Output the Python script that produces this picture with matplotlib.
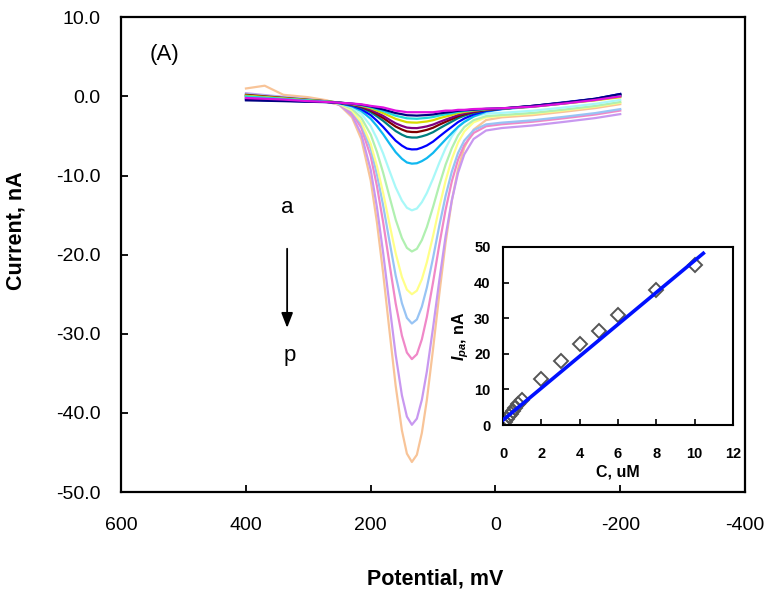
import matplotlib.pyplot as plt

plt.rcParams['font.family'] = ['Liberation Sans', 'DejaVu Sans']
plt.rcParams['axes.unicode_minus'] = False
plt.rcParams['mathtext.fontset'] = 'custom'
plt.rcParams['mathtext.it'] = 'Liberation Sans:italic:bold'
plt.rcParams['mathtext.rm'] = 'Liberation Sans:bold'

# potential grid (mV), shared by all curves
potential = [400, 370, 340, 300, 270, 250, 230, 215, 200, 190, 180, 170, 160, 150, 142, 134,
             126, 118, 110, 100, 90, 80, 70, 60, 50, 35, 15, -10, -60, -110, -160, -200]

# currents (nA), curves a .. p
curve_a = [-0.2, -0.3, -0.4, -0.6, -0.7, -0.8, -0.9, -1.0, -1.2, -1.3, -1.4, -1.6, -1.8, -1.9, -2.0, -2.0,
           -2.0, -2.0, -2.0, -2.0, -1.9, -1.8, -1.8, -1.7, -1.7, -1.6, -1.55, -1.5, -1.3, -0.9, -0.45, 0.0]
curve_b = [-0.5, -0.55, -0.6, -0.68, -0.73, -0.8, -0.92, -1.06, -1.27, -1.47, -1.65, -1.88, -2.11, -2.25, -2.38, -2.4,
           -2.43, -2.39, -2.36, -2.29, -2.15, -2.05, -1.95, -1.82, -1.76, -1.68, -1.57, -1.52, -1.2, -0.8, -0.3, 0.3]
curve_c = [0.0, -0.15, -0.3, -0.5, -0.65, -0.78, -0.94, -1.11, -1.37, -1.62, -1.85, -2.15, -2.44, -2.62, -2.77, -2.8,
           -2.83, -2.77, -2.72, -2.61, -2.42, -2.27, -2.13, -1.95, -1.85, -1.73, -1.6, -1.53, -1.25, -0.85, -0.4, 0.1]
curve_d = [0.1, -0.07, -0.24, -0.47, -0.64, -0.78, -0.97, -1.18, -1.5, -1.81, -2.11, -2.48, -2.84, -3.08, -3.26, -3.3,
           -3.32, -3.24, -3.17, -3.01, -2.76, -2.55, -2.35, -2.12, -1.97, -1.8, -1.63, -1.53, -1.3, -0.9, -0.5, -0.1]
curve_e = [-0.3, -0.39, -0.48, -0.6, -0.7, -0.8, -1.01, -1.27, -1.68, -2.07, -2.47, -2.95, -3.41, -3.73, -3.94, -4.0,
           -4.01, -3.91, -3.79, -3.56, -3.24, -2.94, -2.66, -2.35, -2.15, -1.9, -1.67, -1.55, -1.2, -0.8, -0.35, 0.2]
curve_f = [0.2, 0.01, -0.18, -0.43, -0.62, -0.79, -1.04, -1.33, -1.81, -2.26, -2.73, -3.28, -3.81, -4.19, -4.43, -4.5,
           -4.51, -4.38, -4.23, -3.96, -3.57, -3.22, -2.88, -2.52, -2.27, -1.97, -1.7, -1.55, -1.25, -0.85, -0.4, 0.1]
curve_g = [0.1, -0.07, -0.24, -0.47, -0.64, -0.81, -1.08, -1.42, -1.99, -2.52, -3.09, -3.75, -4.38, -4.84, -5.12, -5.2,
           -5.2, -5.05, -4.86, -4.52, -4.05, -3.61, -3.19, -2.75, -2.44, -2.07, -1.74, -1.56, -1.25, -0.8, -0.35, 0.2]
curve_h = [-0.4, -0.47, -0.54, -0.64, -0.71, -0.85, -1.16, -1.62, -2.37, -3.08, -3.86, -4.75, -5.6, -6.22, -6.59, -6.7,
           -6.68, -6.47, -6.2, -5.71, -5.07, -4.45, -3.85, -3.25, -2.8, -2.28, -1.83, -1.59, -1.2, -0.75, -0.3, 0.3]
curve_i = [-0.1, -0.23, -0.36, -0.54, -0.67, -0.87, -1.26, -1.85, -2.83, -3.76, -4.79, -5.95, -7.05, -7.88, -8.35, -8.5,
           -8.45, -8.18, -7.8, -7.14, -6.29, -5.45, -4.64, -3.85, -3.24, -2.54, -1.93, -1.62, -1.3, -0.9, -0.45, 0.0]
curve_j = [0.2, 0.01, -0.18, -0.43, -0.65, -0.85, -1.37, -2.2, -3.75, -5.34, -7.23, -9.39, -11.5, -13.16, -14.07, -14.4,
           -14.17, -13.37, -12.21, -10.38, -8.38, -6.55, -5.06, -3.9, -3.15, -2.53, -2.18, -2.08, -1.81, -1.4, -0.94, -0.44]
curve_k = [0.0, -0.15, -0.3, -0.5, -0.69, -0.91, -1.57, -2.71, -4.83, -7.02, -9.67, -12.65, -15.57, -17.9, -19.14, -19.6,
           -19.26, -18.16, -16.52, -13.96, -11.19, -8.64, -6.55, -4.93, -3.88, -3.0, -2.5, -2.36, -2.09, -1.67, -1.21, -0.71]
curve_l = [-0.1, -0.23, -0.36, -0.54, -0.72, -0.97, -1.79, -3.25, -6.0, -8.82, -12.24, -16.08, -19.82, -22.83, -24.42, -25.0,
           -24.55, -23.11, -20.96, -17.61, -14.0, -10.67, -7.93, -5.83, -4.44, -3.28, -2.64, -2.46, -2.18, -1.76, -1.3, -0.8]
curve_m = [0.3, 0.09, -0.12, -0.4, -0.66, -0.97, -1.9, -3.54, -6.62, -9.86, -13.81, -18.27, -22.63, -26.13, -27.99, -28.7,
           -28.19, -26.57, -24.16, -20.39, -16.33, -12.59, -9.51, -7.15, -5.58, -4.27, -3.54, -3.32, -3.02, -2.58, -2.11, -1.61]
curve_n = [0.1, -0.07, -0.24, -0.47, -0.7, -1.02, -2.08, -3.98, -7.57, -11.33, -15.94, -21.1, -26.16, -30.22, -32.37, -33.2,
           -32.59, -30.7, -27.88, -23.47, -18.73, -14.35, -10.75, -7.99, -6.16, -4.62, -3.77, -3.52, -3.2, -2.76, -2.29, -1.79]
curve_o = [0.4, 0.17, -0.06, -0.36, -0.67, -1.07, -2.4, -4.79, -9.29, -14.02, -19.81, -26.3, -32.65, -37.77, -40.46, -41.5,
           -40.72, -38.34, -34.77, -29.19, -23.23, -17.69, -13.14, -9.66, -7.33, -5.38, -4.31, -4.0, -3.67, -3.22, -2.74, -2.24]
curve_p = [1.0, 1.35, 0.2, -0.1, -0.5, -1.09, -2.65, -5.42, -10.64, -15.94, -22.39, -29.57, -36.57, -42.2, -45.14, -46.2,
           -45.29, -42.52, -38.36, -31.88, -24.95, -18.51, -13.21, -9.18, -6.46, -4.19, -2.99, -2.65, -2.37, -1.94, -1.48, -0.98]

curves = [curve_a, curve_b, curve_c, curve_d, curve_e, curve_f, curve_g, curve_h,
          curve_i, curve_j, curve_k, curve_l, curve_m, curve_n, curve_o, curve_p]
colors = ['#e010e0', '#000080', '#20d8d8', '#d8d800', '#800080', '#800000', '#008080', '#0000ff',
          '#10b8f0', '#a8f8f8', '#b0f0b0', '#ffff88', '#98c4f4', '#f088c8', '#c898f0', '#f8c498']

# inset: calibration
conc = [0, 0.1, 0.2, 0.3, 0.4, 0.5, 0.6, 0.8, 1.0, 2, 3, 4, 5, 6, 8, 10]
ipa = [0.2, 0.9, 1.7, 2.4, 3.2, 4.0, 4.8, 6.0, 7.0, 12.8, 18.0, 22.8, 26.5, 30.8, 38.0, 45.0]
fit_slope, fit_intercept = 4.48, 1.4
fit_x = [0, 10.45]

fig = plt.figure(figsize=(7.72, 5.95), dpi=100)
ax = fig.add_axes([0.157, 0.173, 0.808, 0.798])

# draw largest first so the dark curves sit on top
for ys, c in reversed(list(zip(curves, colors))):
    ax.plot(potential, ys, color=c, lw=1.6, solid_joinstyle='round')

ax.set_xlim(600, -400)
ax.set_ylim(-50, 10)
ax.set_xticks([600, 400, 200, 0, -200, -400])
ax.set_yticks(range(-50, 11, 10))
ax.yaxis.set_major_formatter(plt.FuncFormatter(lambda v, p: f'{v:.1f}'))
ax.tick_params(direction='in', length=5, width=1.3, labelsize=14)
ax.tick_params(axis='y', pad=15)
ax.tick_params(axis='x', pad=18)
for s in ax.spines.values():
    s.set_linewidth(1.6)

ax.set_xlabel('Potential, mV', fontsize=15.5, fontweight='bold')
ax.set_ylabel('Current, nA', fontsize=15.5, fontweight='bold')
ax.xaxis.set_label_coords(0.503, -0.16)
ax.yaxis.set_label_coords(-0.152, 0.55)

ax.text(530, 5.3, '(A)', fontsize=16, ha='center', va='center')
ax.text(334, -14.1, 'a', fontsize=16, ha='center', va='center')
ax.text(330, -32.8, 'p', fontsize=16, ha='center', va='center')
ax.annotate('', xy=(334, -29.6), xytext=(334, -18.9),
            arrowprops=dict(arrowstyle='-|>,head_width=0.35,head_length=0.9', color='black', lw=1.3))

# inset
ins = fig.add_axes([0.6516, 0.2857, 0.2979, 0.2992])
ins.plot(conc, ipa, 'D', ms=7, mfc='none', mec='#555555', mew=1.4, zorder=2)
ins.plot(fit_x, [fit_slope * x + fit_intercept for x in fit_x], color='#0010ff', lw=2.6, zorder=3)
ins.set_xlim(0, 12)
ins.set_ylim(0, 50)
ins.set_xticks(range(0, 13, 2))
ins.set_yticks(range(0, 51, 10))
ins.tick_params(direction='in', length=4, width=1.2, labelsize=10.5)
ins.tick_params(axis='x', pad=16)
ins.tick_params(axis='y', pad=9)
for lab in ins.get_xticklabels() + ins.get_yticklabels():
    lab.set_fontweight('bold')
for s in ins.spines.values():
    s.set_linewidth(1.5)
ins.set_xlabel('C, uM', fontsize=11.5, fontweight='bold', labelpad=2)
ins.set_ylabel(r'$I_{pa}$, nA', fontsize=11.5, fontweight='bold', labelpad=2)

fig.savefig('out.png', dpi=100)
